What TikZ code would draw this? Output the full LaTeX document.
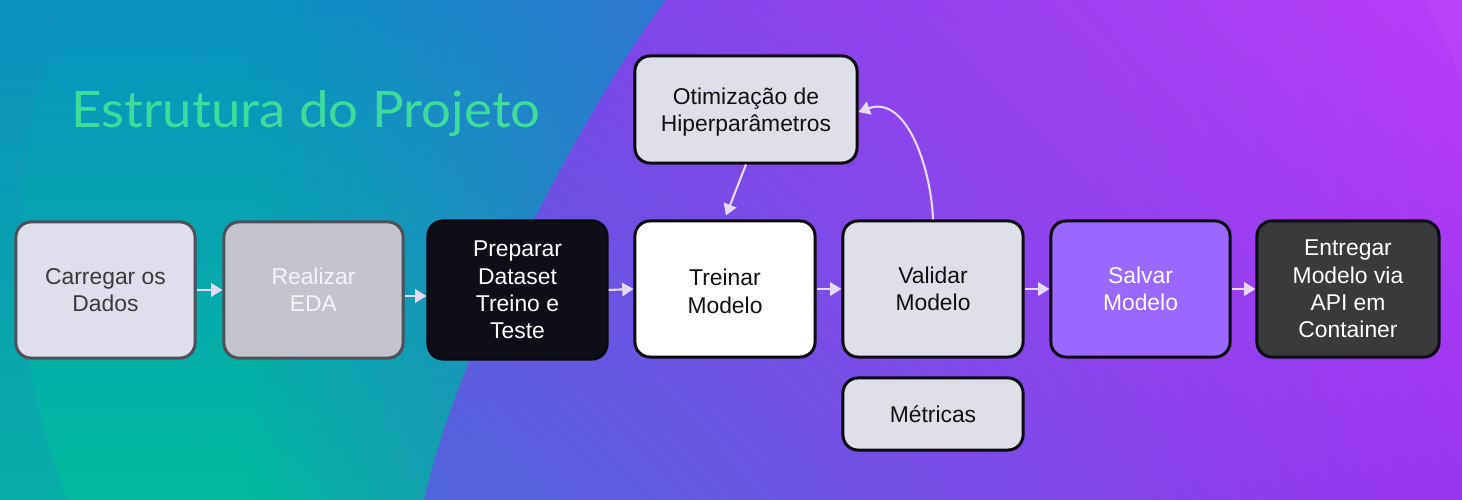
\documentclass[tikz,border=0pt]{standalone}
\usepackage{fontspec}
\setmainfont{Liberation Sans}
\newfontfamily\titlefont[FakeStretch=1.05]{Lato}
\usetikzlibrary{arrows.meta,shadings,fadings}
\tikzfading[name=fadeR, left color=transparent!100, right color=transparent!15]
\definecolor{bgT}{HTML}{0A92C2}
\definecolor{bgM}{HTML}{04A4B2}
\definecolor{bgB}{HTML}{00BB9C}
\definecolor{bgBlue}{HTML}{3A70D6}
\definecolor{edgec}{HTML}{1A8CC0}
\definecolor{pUL}{HTML}{7048E4}
\definecolor{pUR}{HTML}{BB3CF6}
\definecolor{pLL}{HTML}{5066DA}
\definecolor{pLR}{HTML}{9A35EE}
\definecolor{titlec}{HTML}{3EDB9B}
\definecolor{arrc}{HTML}{E4DAF8}
\definecolor{bordk}{HTML}{0A0A10}
\definecolor{bordg}{HTML}{505058}
\definecolor{lav}{HTML}{DFDFEA}
\definecolor{lavA}{HTML}{DEDEEC}
\definecolor{grayb}{HTML}{C4C4CF}
\definecolor{darkb}{HTML}{0E0E18}
\definecolor{purb}{HTML}{9A68FF}
\definecolor{charb}{HTML}{3A3A3C}
\definecolor{textd}{HTML}{111111}
\definecolor{textg}{HTML}{3A3A3A}
\definecolor{textl}{HTML}{F4F4F8}
\begin{document}
\begin{tikzpicture}[x=0.01cm,y=0.01cm,
  box/.style={draw=bordk, line width=0.85pt, rounded corners=0.15cm,
    minimum width=1.79cm, minimum height=1.36cm, align=center, inner sep=0pt,
    text=textd, font=\fontsize{6.5}{7.75}\selectfont},
  flow/.style={draw=arrc, line width=0.6pt, -{Triangle[length=3.2pt,width=3.8pt]}}]
\useasboundingbox (0,0) rectangle (1462,500);
% background
\shade[top color=bgT, middle color=bgM, bottom color=bgB] (0,0) rectangle (700,500);
\fill[bgBlue, path fading=fadeR] (250,0) rectangle (700,500);
\begin{scope}
  \clip (0,0) rectangle (200,500);
  \fill[edgec, opacity=0.25, even odd rule] (0,0) rectangle (200,500) (700,250) circle (680);
\end{scope}
\shade[upper left=pUL, upper right=pUR, lower left=pLL, lower right=pLR]
  (666,500) .. controls (590,400) and (460,160) .. (424,0) -- (1462,0) -- (1462,500) -- cycle;
\fill[white, opacity=0.04] (1425,500) .. controls (1440,470) and (1452,445) .. (1462,420) -- (1462,500) -- cycle;
% title
\node[anchor=base west, text=titlec, font=\titlefont\fontsize{14.3}{16}\selectfont, inner sep=0pt]
  (title) at (71,372) {Estrutura do Projeto};
% boxes
\node[box, draw=bordg, fill=lavA, text=textg] (carregar) at (105.5,210) {Carregar os\\Dados};
\node[box, draw=bordg, fill=grayb, text=textl] (realizar) at (313.5,210) {Realizar\\EDA};
\node[box, fill=darkb, text=white, minimum height=1.38cm] (preparar) at (517.5,210) {Preparar\\Dataset\\Treino e\\Teste};
\node[box, fill=white, minimum width=1.80cm, font=\fontsize{6.5}{8.1}\selectfont] (treinar) at (725,211) {\rule{0pt}{6pt}Treinar\\Modelo};
\node[box, fill=lav, minimum width=1.80cm] (validar) at (933,211) {Validar\\Modelo};
\node[box, fill=purb, text=white] (salvar) at (1140.5,211) {Salvar\\Modelo};
\node[box, fill=charb, text=white, minimum width=1.82cm] (entregar) at (1348,211) {Entregar\\Modelo via\\API em\\Container};
\node[box, fill=lav, minimum width=2.22cm, minimum height=1.07cm] (otim) at (746,390.5) {Otimização de\\\smash{Hiperparâmetros}};
\node[box, fill=lav, minimum width=1.80cm, minimum height=0.72cm] (metricas) at (933,86) {Métricas};
% connectors
\draw[flow] (carregar.east) -- (realizar.west);
\draw[flow] ([yshift=-0.06cm]realizar.east) -- ([yshift=-0.06cm]preparar.west);
\draw[flow] (preparar.east) -- (treinar.west);
\draw[flow] (treinar.east) -- (validar.west);
\draw[flow] (validar.east) -- (salvar.west);
\draw[flow] (salvar.east) -- (entregar.west);
\draw[flow] (otim.south) -- ([xshift=0.01cm,yshift=0.04cm]treinar.north);
\draw[flow] (validar.north) to[out=92,in=20] ([yshift=-0.025cm]otim.east);
\end{tikzpicture}
\end{document}
